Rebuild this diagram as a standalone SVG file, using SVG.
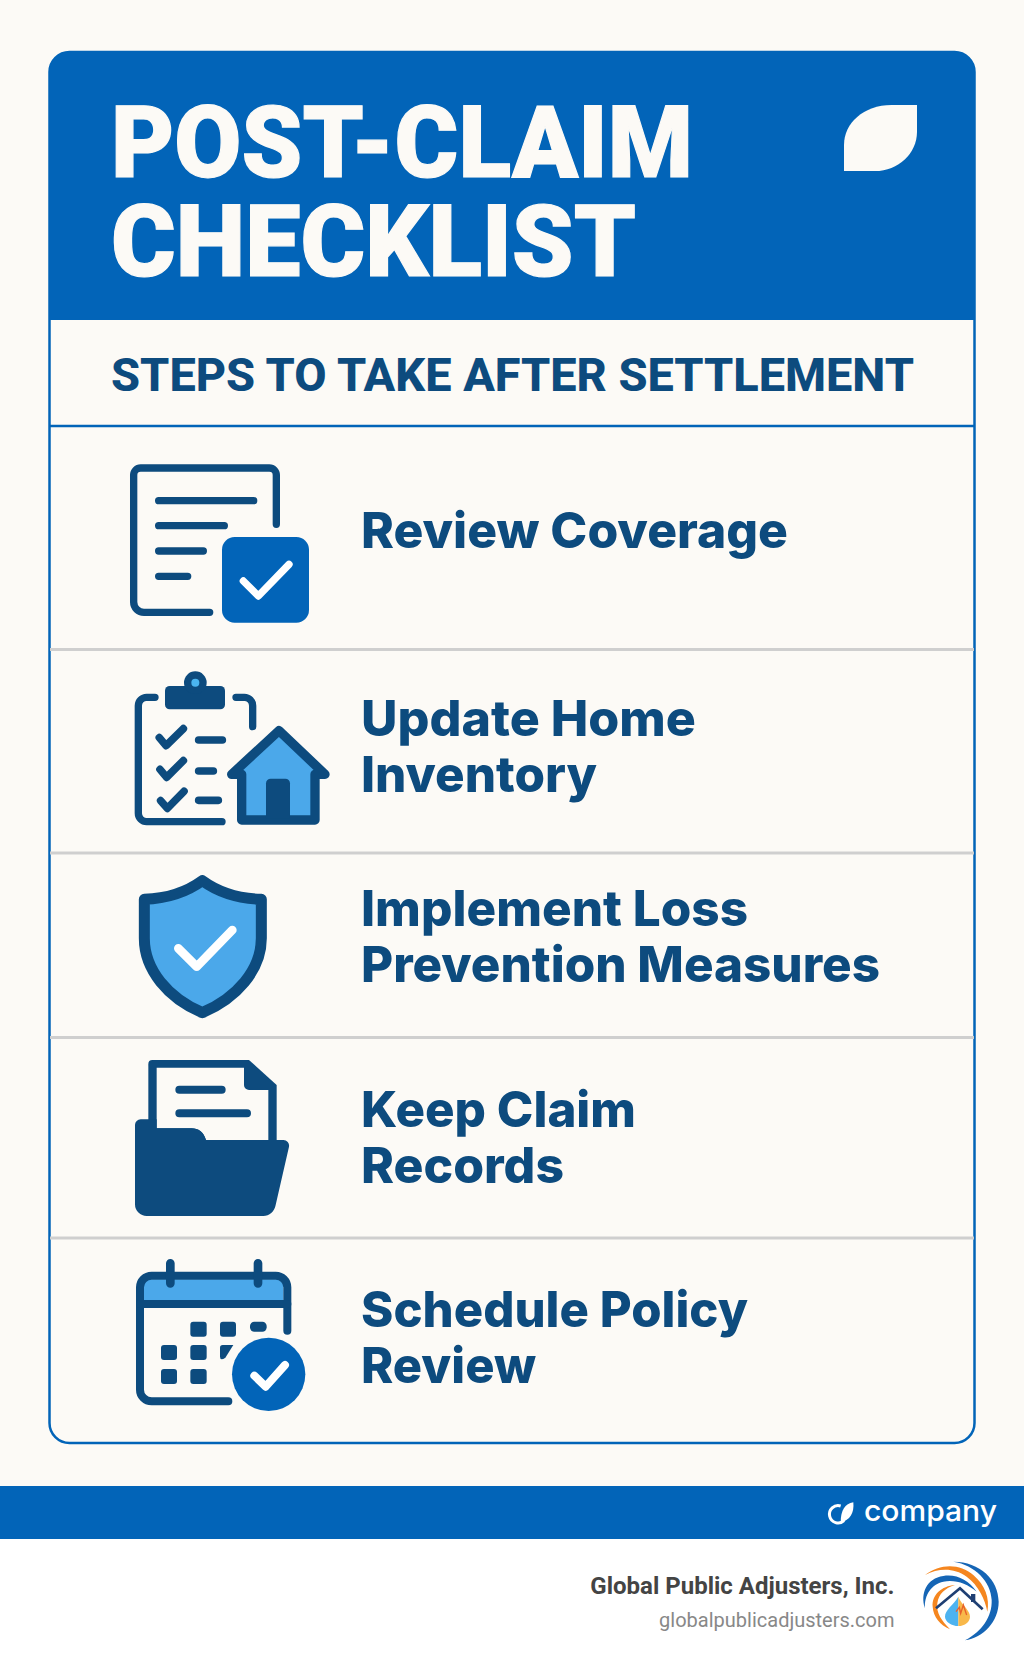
<svg xmlns="http://www.w3.org/2000/svg" width="1024" height="1666" viewBox="0 0 1024 1666">
<style>
.s{fill:none;stroke:#0D4B7E;stroke-linecap:round;stroke-linejoin:round}
.d{fill:#0D4B7E}
.b{fill:#0264B8}
.l{fill:#4BA8EA}
.w{fill:none;stroke:#FFFFFF;stroke-linecap:round;stroke-linejoin:round}
.row{font-family:Inter,"Liberation Sans",sans-serif;font-weight:800;font-size:50px;fill:#0D4B7E}
.title{font-family:Roboto,"Liberation Sans",sans-serif;font-weight:900;font-size:101px;fill:#FCFAF6;stroke:#FCFAF6;stroke-width:1.2}
.div{stroke:#CFCFCF;stroke-width:3}
</style>
<rect width="1024" height="1666" fill="#FCFAF6"/>
<rect y="1539" width="1024" height="127" fill="#FFFFFF"/>
<rect x="0" y="1486" width="1024" height="53" class="b"/>

<g id="card">
<rect x="49.5" y="52" width="925" height="1391" rx="20" fill="#FCFAF6" stroke="#0264B8" stroke-width="2.5"/>
<path d="M49 72a20 20 0 0 1 20-20H955a20 20 0 0 1 20 20V320H49Z" class="b"/>
<path d="M49 426H975" stroke="#0264B8" stroke-width="2.5"/>
</g>

<g id="header">
<text class="title" x="111" y="176.5" textLength="582" lengthAdjust="spacingAndGlyphs">POST-CLAIM</text>
<text class="title" x="111" y="276" textLength="525" lengthAdjust="spacingAndGlyphs">CHECKLIST</text>
<path transform="translate(820 90) scale(.33333)" d="M291 45H215C130 45 72 100 72 165V243H165C235 243 291 190 291 125Z" fill="#FCFAF6"/>
</g>

<g id="subtitle">
<text x="111" y="390.5" textLength="803" lengthAdjust="spacingAndGlyphs" font-family="Roboto,'Liberation Sans',sans-serif" font-weight="800" font-size="47" fill="#0D4B7E">STEPS TO TAKE AFTER SETTLEMENT</text>
</g>

<g id="dividers">
<path class="div" d="M50 649.5H974M50 853H974M50 1037.5H974M50 1238H974"/>
</g>

<g id="step-review-coverage">
<g transform="translate(100 440) scale(.33333)">
<path class="s" stroke-width="22" d="M529 253V105a21 21 0 0 0-21-21H122a21 21 0 0 0-21 21V486a31 31 0 0 0 31 31H329"/>
<path class="s" stroke-width="22" d="M176 182H461M176 257H373M176 333H310M176 409H263"/>
<rect x="366" y="291" width="261" height="257" rx="38" class="b"/>
<path class="w" stroke-width="22" d="M430 423L475 468L567 373"/>
</g>
<text class="row" x="361" y="548.3" textLength="427" lengthAdjust="spacingAndGlyphs">Review Coverage</text>
</g>

<g id="step-update-inventory">
<g transform="translate(100 440) scale(.33333)">
<path class="s" stroke-width="22" d="M165 772H140a25 25 0 0 0-25 25V1120a25 25 0 0 0 25 25H366"/>
<path class="s" stroke-width="22" d="M408 772H433a25 25 0 0 1 25 25V860"/>
<rect x="195" y="738" width="180" height="70" rx="14" class="d"/>
<circle cx="286" cy="728" r="34" class="d"/>
<circle cx="286" cy="728" r="12" fill="#4BB5F0"/>
<path class="s" stroke-width="23" d="M178 893L198 917L250 866M180 988L200 1012L250 962M182 1082L202 1105L252 1054"/>
<path class="s" stroke-width="23" d="M296 900H367M296 993H340M296 1081H355"/>
<path class="l" stroke="#0D4B7E" stroke-width="28" stroke-linejoin="round" d="M537 872L675 1003H645V1140H425V1003H395Z"/>
<path class="d" d="M498 1135V1030a14 14 0 0 1 14-14H556a14 14 0 0 1 14 14V1135Z"/>
</g>
<text class="row" x="361" y="735.7" textLength="335" lengthAdjust="spacingAndGlyphs">Update Home</text>
<text class="row" x="361" y="792" textLength="236" lengthAdjust="spacingAndGlyphs">Inventory</text>
</g>

<g id="step-loss-prevention">
<g transform="translate(100 860) scale(.33333)">
<path class="l" stroke="#0D4B7E" stroke-width="33" stroke-linejoin="round" d="M307 62C255 100 195 116 133 118V235C133 330 205 415 307 458C409 415 484 330 484 235V118C419 116 359 100 307 62Z"/>
<path class="w" stroke-width="26" d="M235 265L290 320L397 210"/>
</g>
<text class="row" x="361" y="925.7" textLength="387" lengthAdjust="spacingAndGlyphs">Implement Loss</text>
<text class="row" x="361" y="982.3" textLength="519" lengthAdjust="spacingAndGlyphs">Prevention Measures</text>
</g>

<g id="step-keep-records">
<g transform="translate(100 860) scale(.33333)">
<path class="d" d="M145 612a12 12 0 0 1 12-12H447L530 675V860H145Z"/>
<path fill="#FCFAF6" d="M170 623H432V675a15 15 0 0 0 15 15H505V840H318C310 815 295 805 275 805H170Z"/>
<path class="s" stroke-width="24" d="M238 689H365M238 760H441"/>
<path class="d" d="M105 795a17 17 0 0 1 17-17H170V805H275C295 805 310 815 318 840H550a17 17 0 0 1 17 20L527 1035C523 1055 508 1068 490 1068H140a35 35 0 0 1-35-35Z"/>
</g>
<text class="row" x="361" y="1126.7" textLength="275" lengthAdjust="spacingAndGlyphs">Keep Claim</text>
<text class="row" x="361" y="1183" textLength="203" lengthAdjust="spacingAndGlyphs">Records</text>
</g>

<g id="step-schedule-review">
<g transform="translate(100 1240) scale(.33333)">
<path class="l" d="M132 192V130a12 12 0 0 1 12-12H538a12 12 0 0 1 12 12V192Z"/>
<path class="s" stroke-width="24" d="M562 272V142a35 35 0 0 0-35-35H155a35 35 0 0 0-35 35V449a35 35 0 0 0 35 35H385"/>
<path class="s" stroke-width="24" d="M120 192H562"/>
<path class="s" stroke-width="26" d="M211 70V130M474 70V130"/>
<g class="d">
<rect x="271" y="245" width="49" height="45" rx="9"/>
<rect x="360" y="245" width="48" height="45" rx="9"/>
<rect x="450" y="245" width="50" height="30" rx="13"/>
<rect x="183" y="315" width="48" height="45" rx="9"/>
<rect x="271" y="315" width="49" height="45" rx="9"/>
<path d="M368 315H400L377 352Q372 358 366 358Q360 358 360 350V323Q360 315 368 315Z"/>
<rect x="183" y="387" width="48" height="45" rx="9"/>
<rect x="271" y="387" width="49" height="45" rx="9"/>
</g>
<circle cx="506" cy="403" r="110" class="b"/>
<path class="w" stroke-width="24" d="M463 407L497 440L555 375"/>
</g>
<text class="row" x="361" y="1326.7" textLength="387" lengthAdjust="spacingAndGlyphs">Schedule Policy</text>
<text class="row" x="361" y="1383.3" textLength="175" lengthAdjust="spacingAndGlyphs">Review</text>
</g>

<g id="company-band">
<g transform="translate(820 1490) scale(.33333)">
<path d="M62 48A26 26 0 1 0 72 92" fill="none" stroke="#FFFFFF" stroke-width="9"/>
<path d="M100 37C75 42 62 60 62 98C90 90 103 70 100 37Z" fill="#FFFFFF"/>
</g>
<text x="864" y="1520.7" textLength="133" lengthAdjust="spacingAndGlyphs" font-family="Inter,'Liberation Sans',sans-serif" font-weight="500" font-size="29" fill="#FFFFFF">company</text>
</g>

<g id="brand">
<text x="894.5" y="1594" text-anchor="end" font-family="Roboto,'Liberation Sans',sans-serif" font-weight="700" font-size="24" fill="#444444">Global Public Adjusters, Inc.</text>
<text x="894.5" y="1627" text-anchor="end" font-family="Roboto,'Liberation Sans',sans-serif" font-weight="400" font-size="20" fill="#888888">globalpublicadjusters.com</text>
<g id="logo" transform="translate(910 1550) scale(.33333)">
<path fill="#1565B5" d="M130 35C210 35 266 90 266 155C266 215 220 262 165 271C215 245 247 200 245 150C243 95 195 45 130 35Z"/>
<path fill="#F5861F" d="M45 75C90 40 150 40 190 75C225 105 240 145 232 185C226 150 205 105 170 80C130 52 85 55 45 75Z"/>
<path fill="#1565B5" d="M45 175C30 130 50 85 100 78C140 72 175 90 200 125C170 100 135 88 100 95C65 102 42 135 45 175Z"/>
<path fill="#F5861F" d="M135 105C95 108 65 135 68 170C70 200 90 225 120 238C95 212 78 190 82 160C86 130 105 115 135 105Z"/>
<path fill="none" stroke="#1F3F73" stroke-width="8" d="M78 175L150 115L218 178"/>
<rect x="183" y="132" width="13" height="24" fill="#1F3F73"/>
<path fill="#4DB3F0" d="M145 140C130 165 105 180 105 200C105 215 125 228 145 228Z"/>
<path fill="#F8B84A" d="M145 140C155 165 180 180 180 200C180 215 165 228 145 228Z"/>
<path fill="none" stroke="#E8602A" stroke-width="4" d="M138 185L148 172L152 190L160 165L170 195"/>
</g>
</g>
</svg>
